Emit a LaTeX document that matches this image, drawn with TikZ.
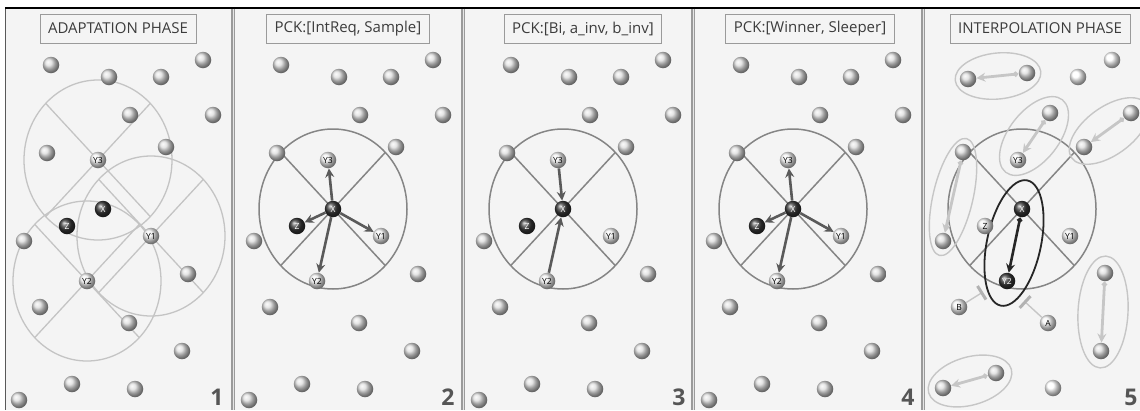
\documentclass[tikz,border=0pt]{standalone}
\usepackage{fontspec}
\setmainfont{Open Sans}
\usetikzlibrary{arrows.meta}
\definecolor{bgc}{HTML}{F4F4F4}
\definecolor{ttl}{HTML}{3C3C3C}
\definecolor{frm}{HTML}{9A9A9A}
\definecolor{lcirc}{HTML}{C4C4C4}
\definecolor{dcirc}{HTML}{858585}
\definecolor{darrc}{HTML}{5A5A5A}
\definecolor{larrc}{HTML}{C6C6C6}
\definecolor{numc}{HTML}{555555}
\pgfdeclarelayer{ground}
\pgfdeclarelayer{back}
\pgfsetlayers{ground,back,main}
\newcommand\basenodes{%
  \node[ball] (p1) at (51,65) {};
  \node[ball] (p2) at (109,77) {};
  \node[ball] (p3) at (161,77) {};
  \node[ball] (p4) at (203,60) {};
  \node[ball] (p5) at (130,115) {};
  \node[ball] (p6) at (213,115) {};
  \node[ball] (p7) at (47,153) {};
  \node[ball] (p8) at (166,147) {};
  \node[ball] (p9) at (24,241) {};
  \node[ball] (p10) at (188,274) {};
  \node[ball] (p11) at (40,307) {};
  \node[ball] (p12) at (129,323) {};
  \node[ball] (p13) at (182,351) {};
  \node[ball] (p14) at (72,384) {};
  \node[ball] (p15) at (135,389) {};
  \node[ball] (p16) at (19,400) {};
  \node[lball] (Y3) at (98,160) {Y3};
  \node[dball] (X) at (103,209) {X};
  \node[dball] (Z) at (67,226) {Z};
  \node[lball] (Y1) at (151,236) {Y1};
  \node[lball] (Y2) at (87,281) {Y2};
}
\newcommand\xcirc[1]{%
  \draw (#1.center) ellipse [x radius=74, y radius=80];
  \draw (#1.center) ++(-52.3,-56.6) -- ++(104.6,113.2);
  \draw (#1.center) ++(52.3,-56.6) -- ++(-104.6,113.2);
}
\begin{document}
\begin{tikzpicture}[x=1pt,y=-1pt,
  ball/.style={circle, minimum size=16.5pt, inner sep=0pt, ball color=gray!26,
    font=\fontsize{8.5}{8.5}\selectfont, text=black},
  lball/.style={ball, ball color=gray!9},
  dball/.style={ball, ball color=black!78, text=white},
  wball/.style={ball, ball color=white},
  title/.style={draw=frm, line width=0.8pt, fill=bgc, minimum height=29pt,
    inner xsep=8pt, text=ttl, font=\fontsize{15}{17}\selectfont},
  num/.style={text=numc, font=\fontsize{23}{23}\selectfont\bfseries, anchor=south, inner sep=0pt},
  lcircle/.style={draw=lcirc, line width=1.3pt},
  dcircle/.style={draw=dcirc, line width=1.5pt},
  darr/.style={draw=darrc, line width=2.6pt, -{Stealth[length=9pt,width=9pt,inset=3pt]}},
  larr/.style={draw=larrc, line width=2.8pt, {Turned Square[length=6pt,width=6pt]}-{Stealth[length=9pt,width=9pt,inset=3pt]}},
  barr/.style={draw=black!85, line width=2.6pt, {Turned Square[length=6pt,width=6pt]}-{Stealth[length=9pt,width=9pt,inset=3pt]}},
  lell/.style={draw=larrc, line width=1.4pt},
  bell/.style={draw=black!85, line width=1.8pt},
  inh/.style={draw=larrc, line width=1.4pt, -{Bar[width=16pt,line width=3pt,color=gray!60]}}
]
\useasboundingbox (0,0) rectangle (1140,410);
\begin{pgfonlayer}{ground}
\fill[white] (0,0) rectangle (1140,410);
\fill[bgc] (5,8) rectangle (1140,410);
\foreach \k in {1,2,3,4} {
  \fill[gray!20] (230*\k+2,8) rectangle (230*\k+4.5,410);
  \draw[frm, line width=1.3pt] (230*\k+2,8) -- (230*\k+2,410);
  \draw[frm, line width=1.3pt] (230*\k+4.5,8) -- (230*\k+4.5,410);
}
\draw[gray!70!black, line width=1.2pt] (5.5,8) -- (5.5,410);
\draw[black, line width=1.6pt] (5,8) -- (1140,8);
\end{pgfonlayer}

% ---------- panel 1 ----------
\begin{scope}[name prefix=a-]
  \basenodes
  \node[title] (t) at (118,28.5) {ADAPTATION PHASE};
  \node[num] (n) at (217,405.5) {1};
  \begin{pgfonlayer}{back}
    \begin{scope}[lcircle]
      \xcirc{Y3}
      \xcirc{Y1}
      \xcirc{Y2}
    \end{scope}
  \end{pgfonlayer}
\end{scope}

% ---------- panel 2 ----------
\begin{scope}[xshift=230pt, name prefix=b-]
  \basenodes
  \node[title] (t) at (118,28.5) {PCK:[IntReq, Sample]};
  \node[num] (n) at (218,405.5) {2};
  \begin{pgfonlayer}{back}
    \begin{scope}[dcircle]\xcirc{X}\end{scope}
  \end{pgfonlayer}
  \draw[darr] (X) -- (Y3);
  \draw[darr] (X) -- (Z);
  \draw[darr] (X) -- (Y1);
  \draw[darr] (X) -- (Y2);
\end{scope}

% ---------- panel 3 ----------
\begin{scope}[xshift=460pt, name prefix=c-]
  \basenodes
  \node[title] (t) at (123,28.5) {PCK:[Bi, a\_inv, b\_inv]};
  \node[num] (n) at (219,405.5) {3};
  \begin{pgfonlayer}{back}
    \begin{scope}[dcircle]\xcirc{X}\end{scope}
  \end{pgfonlayer}
  \draw[darr] (Y3) -- (X);
  \draw[darr] (Y2) -- (X);
\end{scope}

% ---------- panel 4 ----------
\begin{scope}[xshift=690pt, name prefix=d-]
  \basenodes
  \node[title] (t) at (120,28.5) {PCK:[Winner, Sleeper]};
  \node[num] (n) at (218,405.5) {4};
  \begin{pgfonlayer}{back}
    \begin{scope}[dcircle]\xcirc{X}\end{scope}
  \end{pgfonlayer}
  \draw[darr] (X) -- (Y3);
  \draw[darr] (X) -- (Z);
  \draw[darr] (X) -- (Y1);
  \draw[darr] (X) -- (Y2);
\end{scope}

% ---------- panel 5 ----------
\begin{scope}[xshift=920pt, name prefix=e-]
  \node[title] (t) at (120,28.5) {INTERPOLATION PHASE};
  \node[num] (n) at (211,405.5) {5};
  \node[ball] (q1) at (48,79) {};
  \node[ball] (q2) at (107,73) {};
  \node[wball] (q3) at (158,77) {};
  \node[wball] (q4) at (192,60) {};
  \node[ball] (q5) at (130,113) {};
  \node[ball] (q6) at (211,113) {};
  \node[ball] (q7) at (43,152) {};
  \node[ball] (q8) at (164,147) {};
  \node[ball] (q9) at (23,241) {};
  \node[ball] (q10) at (185,273) {};
  \node[ball] (q11) at (181,351) {};
  \node[ball] (q12) at (76,373) {};
  \node[ball] (q13) at (23,388) {};
  \node[wball] (q14) at (133,388) {};
  \node[lball] (Y3) at (98,160) {Y3};
  \node[dball] (X) at (102,209) {X};
  \node[lball] (Z) at (65,226) {Z};
  \node[lball] (Y1) at (150,236) {Y1};
  \node[dball] (Y2) at (87,281) {Y2};
  \node[lball] (B) at (39,307) {B};
  \node[lball] (A) at (128,323) {A};
  \coordinate (barB) at (63,292);
  \coordinate (barA) at (104,301);
  \begin{pgfonlayer}{back}
    \begin{scope}[dcircle]\xcirc{X}\end{scope}
    \draw[lell, rotate around={5.8:(78,76)}] (78,76) ellipse [x radius=43, y radius=23];
    \draw[lell, rotate around={52:(114,136)}] (114,136) ellipse [x radius=46, y radius=25];
    \draw[lell, rotate around={36:(189,131)}] (189,131) ellipse [x radius=46, y radius=24];
    \draw[lell, rotate around={77:(33,197)}] (33,197) ellipse [x radius=60, y radius=20];
    \draw[lell, rotate around={87:(183,312)}] (183,312) ellipse [x radius=56, y radius=25];
    \draw[lell, rotate around={16:(50,381)}] (50,381) ellipse [x radius=43, y radius=24];
    \draw[bell, rotate around={78:(94,243)}] (94,243) ellipse [x radius=64, y radius=27];
  \end{pgfonlayer}
  \draw[larr] (q2) -- (q1);
  \draw[larr] (q5) -- (Y3);
  \draw[larr] (q6) -- (q8);
  \draw[larr] (q7) -- (q9);
  \draw[larr] (q10) -- (q11);
  \draw[larr] (q12) -- (q13);
  \draw[barr] (X) -- (Y2);
  \draw[inh] (B) -- (barB);
  \draw[inh] (A) -- (barA);
\end{scope}
\end{tikzpicture}
\end{document}
